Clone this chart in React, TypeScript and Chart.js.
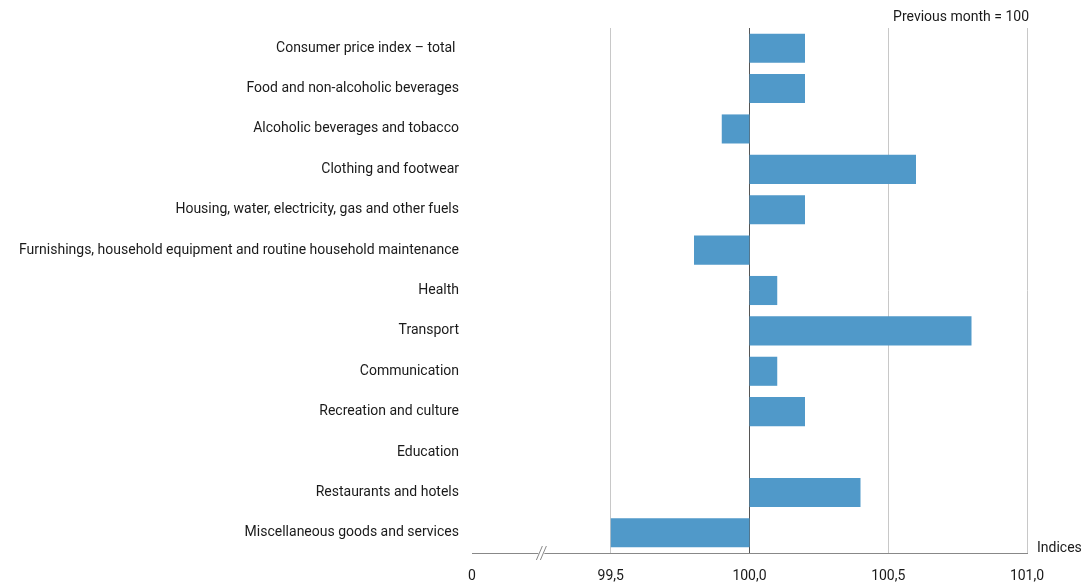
import React, { useEffect, useRef } from "react";
import { Chart, registerables } from "chart.js";

Chart.register(...registerables);

const categories = [
  "Consumer price index – total ",
  "Food and non-alcoholic beverages",
  "Alcoholic beverages and tobacco",
  "Clothing and footwear",
  "Housing, water, electricity, gas and other fuels",
  "Furnishings, household equipment and routine household maintenance",
  "Health",
  "Transport",
  "Communication",
  "Recreation and culture",
  "Education",
  "Restaurants and hotels",
  "Miscellaneous goods and services",
];

const indexValues = [100.2, 100.2, 99.9, 100.6, 100.2, 99.8, 100.1, 100.8, 100.1, 100.2, 100.0, 100.4, 99.5];

const baseValue = 100;
const axisMin = 99.0;
const axisMax = 101.0;
const tickLabels: Record<string, string> = {
  "99": "0",
  "99.5": "99,5",
  "100": "100,0",
  "100.5": "100,5",
  "101": "101,0",
};
const unitLabel = "Indices";
const baseLabel = "Previous month = 100";

const FONT = "'Liberation Sans Narrow', 'Arial Narrow', 'Roboto', sans-serif";

export default function App() {
  const ref = useRef<HTMLCanvasElement | null>(null);

  useEffect(() => {
    if (!ref.current) return;
    const extras = {
      id: "extras",
      afterDraw(chart: any) {
        const { ctx, chartArea, scales } = chart;
        const x = scales.x;
        ctx.save();
        // break mark
        const bx = x.getPixelForValue(99.25);
        const by = chartArea.bottom;
        ctx.strokeStyle = "#888";
        ctx.lineWidth = 1;
        ctx.fillStyle = "#fff";
        ctx.fillRect(bx - 3, by - 1, 6, 3);
        [-2, 2].forEach((dx) => {
          ctx.beginPath();
          ctx.moveTo(bx + dx - 3, by + 7);
          ctx.lineTo(bx + dx + 3, by - 7);
          ctx.stroke();
        });
        ctx.fillStyle = "#1a1a1a";
        ctx.font = `14px ${FONT}`;
        ctx.textBaseline = "middle";
        ctx.textAlign = "left";
        ctx.fillText(unitLabel, chartArea.right + 10, chartArea.bottom - 5);
        ctx.textAlign = "right";
        ctx.fillText(baseLabel, chartArea.right + 2, 17);
        ctx.restore();
      },
    };

    const chart = new Chart(ref.current, {
      type: "bar",
      data: {
        labels: categories,
        datasets: [
          {
            data: indexValues.map((v) => [baseValue, v]) as any,
            backgroundColor: "#5099c9",
            borderColor: "#5099c9",
            borderWidth: 0,
            barPercentage: 0.72,
            categoryPercentage: 1,
            borderSkipped: false,
          },
        ],
      },
      options: {
        indexAxis: "y",
        animation: false,
        responsive: true,
        maintainAspectRatio: false,
        layout: { padding: { top: 28, right: 56, bottom: 0, left: 0 } },
        plugins: { legend: { display: false }, tooltip: { enabled: false } },
        scales: {
          x: {
            min: axisMin,
            max: axisMax,
            afterBuildTicks: (s: any) => {
              s.ticks = [99, 99.5, 100, 100.5, 101].map((v) => ({ value: v }));
            },
            afterFit: (s: any) => {
              s.height = 35;
            },
            grid: {
              drawTicks: false,
              color: (c: any) =>
                c.tick && c.tick.value === 99 ? "rgba(0,0,0,0)" : c.tick && c.tick.value === 100 ? "#555" : "#c8c8c8",
              lineWidth: 1,
            },
            border: { display: true, color: "#888" },
            ticks: {
              padding: 15,
              color: "#1a1a1a",
              font: { family: FONT, size: 14 },
              callback: (v: any) => tickLabels[String(Number(v))] ?? "",
              maxRotation: 0,
            },
          },
          y: {
            afterFit: (s: any) => {
              s.width = 472;
            },
            grid: { display: false },
            border: { display: false },
            ticks: {
              padding: 5,
              color: "#1a1a1a",
              font: { family: FONT, size: 14 },
            },
          },
        },
      },
      plugins: [extras],
    });
    return () => chart.destroy();
  }, []);

  return (
    <div style={{ position: "fixed", left: 0, top: 0, width: 1083, height: 588 }}>
      <canvas ref={ref} />
    </div>
  );
}
